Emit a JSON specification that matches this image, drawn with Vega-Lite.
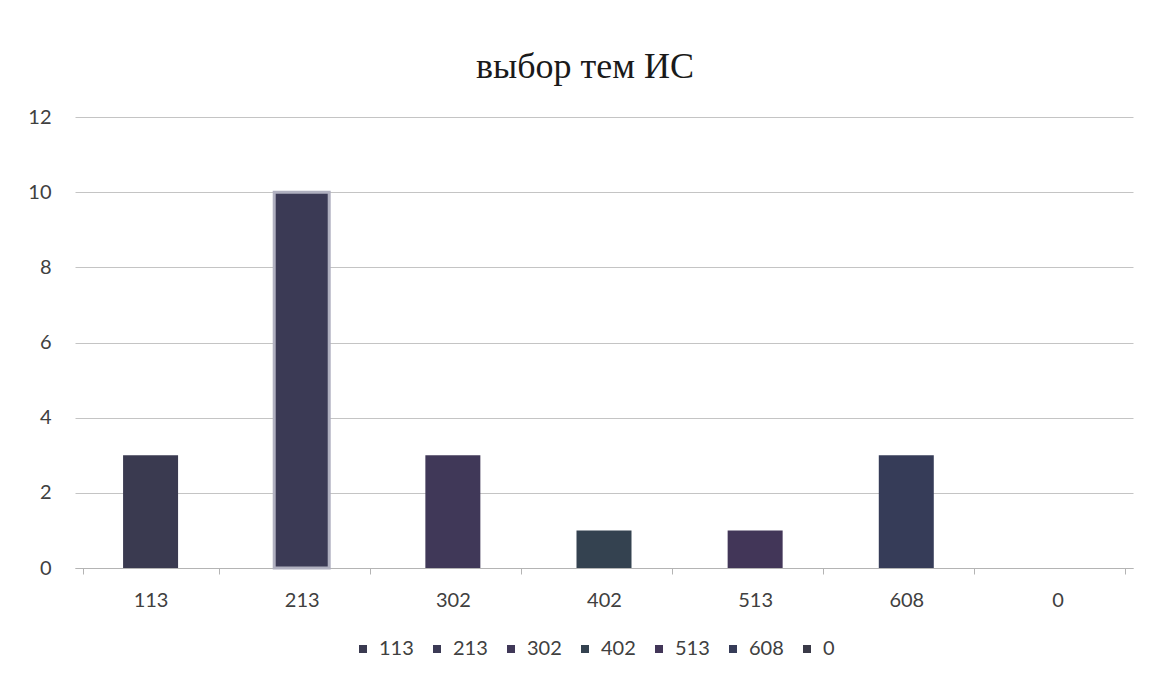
{
  "$schema": "https://vega.github.io/schema/vega-lite/v6.json",
  "autosize": "none",
  "width": 1058,
  "height": 451,
  "padding": {"left": 75, "top": 117, "right": 18, "bottom": 115},
  "background": "white",
  "view": {"stroke": null},
  "title": {
    "text": "выбор тем ИС",
    "font": "Liberation Serif",
    "fontSize": 36,
    "fontWeight": "normal",
    "color": "#1a1a1a",
    "anchor": "middle",
    "baseline": "alphabetic",
    "offset": 40,
    "dy": 47,
    "dx": -19
  },
  "data": {
    "values": [
      {"group": "113", "count": 3},
      {"group": "213", "count": 10},
      {"group": "302", "count": 3},
      {"group": "402", "count": 1},
      {"group": "513", "count": 1},
      {"group": "608", "count": 3},
      {"group": "0", "count": 0}
    ]
  },
  "mark": {"type": "bar", "width": 55},
  "encoding": {
    "x": {
      "field": "group",
      "type": "nominal",
      "sort": null,
      "title": null,
      "axis": {
        "labelAngle": 0,
        "labelFont": "Lato",
        "labelFontSize": 20,
        "labelColor": "#404040",
        "labelPadding": 16,
        "domainColor": "#b4b4b4",
        "tickColor": "#b4b4b4",
        "tickBand": "extent",
        "tickSize": 6,
        "grid": false
      }
    },
    "y": {
      "field": "count",
      "type": "quantitative",
      "title": null,
      "scale": {"domain": [0, 12], "nice": false},
      "axis": {
        "values": [0, 2, 4, 6, 8, 10, 12],
        "labelFont": "Lato",
        "labelFontSize": 20,
        "labelColor": "#404040",
        "labelPadding": 24,
        "tickSize": 0,
        "domain": false,
        "gridColor": "#c4c4c4",
        "gridWidth": 1
      }
    },
    "color": {
      "field": "group",
      "type": "nominal",
      "sort": null,
      "title": null,
      "scale": {
        "domain": ["113", "213", "302", "402", "513", "608", "0"],
        "range": ["#3a3a50", "#3b3a55", "#403858", "#344250", "#423658", "#363c58", "#3a3a48"]
      },
      "legend": {
        "orient": "none",
        "legendX": 278,
        "legendY": 522,
        "direction": "horizontal",
        "symbolType": "square",
        "symbolSize": 64,
        "labelFont": "Lato",
        "labelFontSize": 20,
        "labelColor": "#404040",
        "labelOffset": 6,
        "columnPadding": 13,
        "encode": {
          "symbols": {
            "fill": [
              {"test": "datum.value === '113'", "value": "#2c2c34"},
              {"test": "datum.value === '213'", "value": "#33343c"},
              {"test": "datum.value === '302'", "value": "#5a3a6e"},
              {"test": "datum.value === '402'", "value": "#245446"},
              {"test": "datum.value === '513'", "value": "#5a2e5e"},
              {"test": "datum.value === '608'", "value": "#2e3c6a"},
              {"value": "#333336"}
            ],
            "stroke": [
              {"test": "datum.value === '213'", "value": "#a8a8b8"},
              {"value": "transparent"}
            ],
            "strokeWidth": [
              {"test": "datum.value === '213'", "value": 4},
              {"value": 0}
            ]
          }
        }
      }
    },
    "stroke": {
      "condition": {"test": "datum.group === '213'", "value": "#b0b0c0"},
      "value": null
    },
    "strokeWidth": {
      "condition": {"test": "datum.group === '213'", "value": 3},
      "value": 0
    }
  }
}
